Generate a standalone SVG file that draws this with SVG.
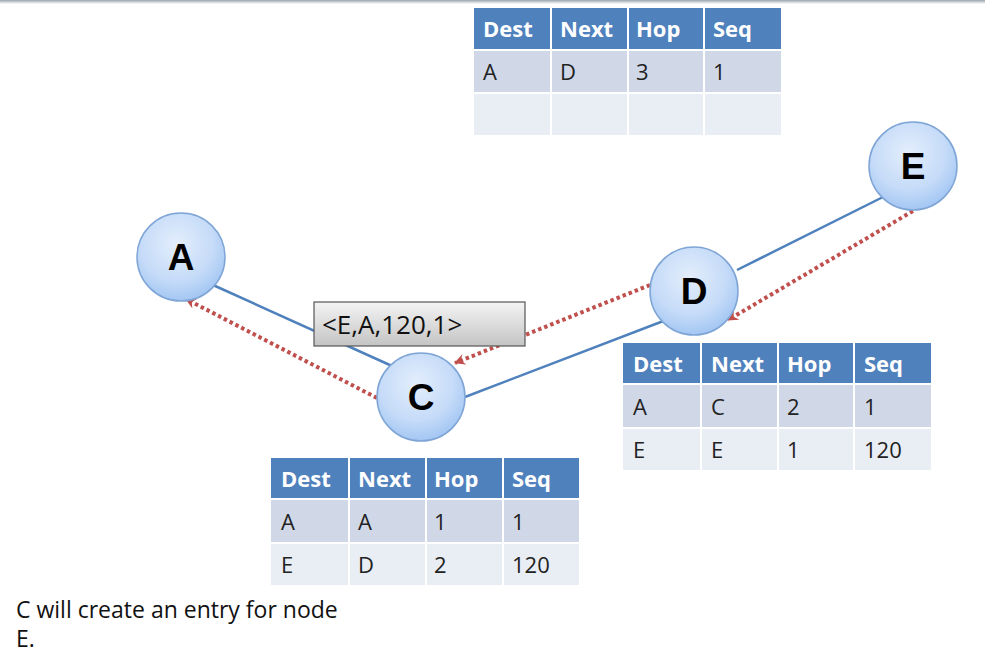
<svg xmlns="http://www.w3.org/2000/svg" width="985" height="660" viewBox="0 0 985 660">
<defs>
<radialGradient id="ng" cx="0.45" cy="0.35" r="0.7">
<stop offset="0" stop-color="#e4eefc"/>
<stop offset="0.6" stop-color="#c5dbf8"/>
<stop offset="1" stop-color="#9cc2f2"/>
</radialGradient>
<linearGradient id="lg" x1="0" y1="0" x2="0" y2="1">
<stop offset="0" stop-color="#f4f4f4"/>
<stop offset="1" stop-color="#c4c4c4"/>
</linearGradient>
<linearGradient id="tg" x1="0" y1="0" x2="0" y2="1">
<stop offset="0" stop-color="#9aa3ad"/>
<stop offset="1" stop-color="#ffffff"/>
</linearGradient>
<marker id="ah" markerWidth="14" markerHeight="14" refX="11" refY="6" orient="auto" markerUnits="userSpaceOnUse">
<path d="M1,0.5 L12,6 L1,11.5 L4.5,6 Z" fill="#c0504d"/>
</marker>
<style>
.node circle{fill:url(#ng);stroke:#7fa5d6;stroke-width:1.5}
.node text{font-family:"Liberation Sans",Arial,sans-serif;font-weight:bold;font-size:37px;fill:#000;text-anchor:middle}
.link{stroke:#4f81bd;stroke-width:2.5;fill:none}
.msg{stroke:#c0504d;stroke-width:4;stroke-dasharray:3.5,3;fill:none}
.hd{fill:#4f81bd}
.r1{fill:#d0d8e8}
.r2{fill:#e9edf4}
.sep{stroke:#ffffff;stroke-width:2}
.ht{font-family:"Open Sans","Liberation Sans",sans-serif;font-weight:bold;font-size:22px;fill:#fff}
.ct{font-family:"Open Sans","Liberation Sans",sans-serif;font-size:22px;fill:#222}
.lab{font-family:"Open Sans","Liberation Sans",sans-serif;font-size:26px;fill:#111}
.cap{font-family:"Open Sans","Liberation Sans",sans-serif;font-size:23px;fill:#111}
</style>
</defs>
<rect x="0" y="0" width="985" height="660" fill="#ffffff"/>
<rect x="0" y="0" width="985" height="4" fill="url(#tg)"/>

<g id="connectors">
<line class="link" x1="213" y1="285" x2="392" y2="366"/>
<line class="link" x1="465" y1="397" x2="666" y2="320"/>
<line class="link" x1="737" y1="270" x2="883" y2="197"/>
<line class="msg" x1="913" y1="211" x2="728" y2="320" marker-end="url(#ah)"/>
<line class="msg" x1="650" y1="285" x2="455" y2="363" marker-end="url(#ah)"/>
<line class="msg" x1="377" y1="398" x2="186" y2="299" marker-end="url(#ah)"/>
</g>

<g id="node-A" class="node"><circle cx="181" cy="257" r="44"/><text x="181" y="270">A</text></g>
<g id="node-C" class="node"><circle cx="421" cy="397" r="44"/><text x="421" y="410">C</text></g>
<g id="node-D" class="node"><circle cx="694" cy="291" r="44"/><text x="694" y="304">D</text></g>
<g id="node-E" class="node"><circle cx="913" cy="166" r="44"/><text x="913" y="179">E</text></g>

<g id="label-msg">
<rect x="314" y="302" width="211" height="44" fill="url(#lg)" stroke="#555" stroke-width="1.2"/>
<text class="lab" x="322" y="334">&lt;E,A,120,1&gt;</text>
</g>

<g id="table-top">
<rect class="hd" x="474" y="8" width="307" height="42"/>
<rect class="r1" x="474" y="50" width="307" height="43"/>
<rect class="r2" x="474" y="93" width="307" height="42"/>
<line class="sep" x1="474" y1="50" x2="781" y2="50"/>
<line class="sep" x1="474" y1="93" x2="781" y2="93"/>
<line class="sep" x1="551" y1="8" x2="551" y2="135"/>
<line class="sep" x1="628" y1="8" x2="628" y2="135"/>
<line class="sep" x1="704" y1="8" x2="704" y2="135"/>
<text class="ht" x="483" y="37">Dest</text><text class="ht" x="560" y="37">Next</text><text class="ht" x="636" y="37">Hop</text><text class="ht" x="713" y="37">Seq</text>
<text class="ct" x="483" y="80">A</text><text class="ct" x="560" y="80">D</text><text class="ct" x="636" y="80">3</text><text class="ct" x="713" y="80">1</text>
</g>

<g id="table-D">
<rect class="hd" x="623" y="343" width="308" height="41"/>
<rect class="r1" x="623" y="384" width="308" height="44"/>
<rect class="r2" x="623" y="428" width="308" height="42"/>
<line class="sep" x1="623" y1="384" x2="931" y2="384"/>
<line class="sep" x1="623" y1="428" x2="931" y2="428"/>
<line class="sep" x1="701" y1="343" x2="701" y2="470"/>
<line class="sep" x1="778" y1="343" x2="778" y2="470"/>
<line class="sep" x1="854" y1="343" x2="854" y2="470"/>
<text class="ht" x="633" y="372">Dest</text><text class="ht" x="711" y="372">Next</text><text class="ht" x="787" y="372">Hop</text><text class="ht" x="864" y="372">Seq</text>
<text class="ct" x="633" y="415">A</text><text class="ct" x="711" y="415">C</text><text class="ct" x="787" y="415">2</text><text class="ct" x="864" y="415">1</text>
<text class="ct" x="633" y="458">E</text><text class="ct" x="711" y="458">E</text><text class="ct" x="787" y="458">1</text><text class="ct" x="864" y="458">120</text>
</g>

<g id="table-C">
<rect class="hd" x="271" y="458" width="308" height="41"/>
<rect class="r1" x="271" y="499" width="308" height="44"/>
<rect class="r2" x="271" y="543" width="308" height="42"/>
<line class="sep" x1="271" y1="499" x2="579" y2="499"/>
<line class="sep" x1="271" y1="543" x2="579" y2="543"/>
<line class="sep" x1="349" y1="458" x2="349" y2="585"/>
<line class="sep" x1="426" y1="458" x2="426" y2="585"/>
<line class="sep" x1="503" y1="458" x2="503" y2="585"/>
<text class="ht" x="281" y="487">Dest</text><text class="ht" x="358" y="487">Next</text><text class="ht" x="434" y="487">Hop</text><text class="ht" x="512" y="487">Seq</text>
<text class="ct" x="281" y="530">A</text><text class="ct" x="358" y="530">A</text><text class="ct" x="434" y="530">1</text><text class="ct" x="512" y="530">1</text>
<text class="ct" x="281" y="573">E</text><text class="ct" x="358" y="573">D</text><text class="ct" x="434" y="573">2</text><text class="ct" x="512" y="573">120</text>
</g>

<g id="caption">
<text class="cap" x="16" y="618">C will create an entry for node</text>
<text class="cap" x="16" y="647">E.</text>
</g>
</svg>
